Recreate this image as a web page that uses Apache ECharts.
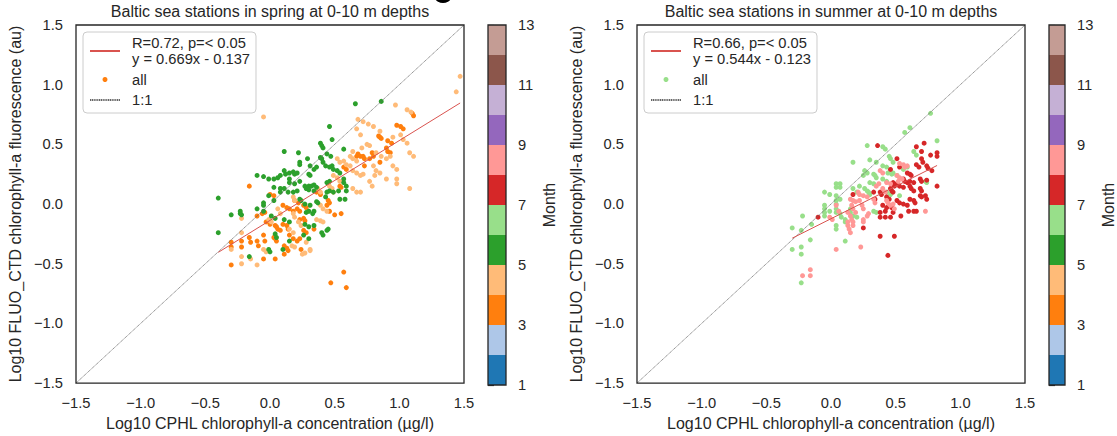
<!DOCTYPE html>
<html>
<head>
<meta charset="utf-8">
<script src="https://cdn.jsdelivr.net/npm/echarts@6/dist/echarts.min.js"></script>
<style>
html,body{margin:0;padding:0;background:#ffffff;}
#chart{width:1117px;height:436px;}
</style>
</head>
<body>
<div id="chart"></div>
<script>
// ---------- data ----------
const months = [1, 2, 3, 4, 5, 6, 7, 8, 9, 10, 11, 12];
const monthColors = ['#1f77b4', '#aec7e8', '#ff7f0e', '#ffbb78', '#2ca02c', '#98df8a',
                     '#d62728', '#ff9896', '#9467bd', '#c5b0d5', '#8c564b', '#c49c94'];
const colorbarTicks = [1, 3, 5, 7, 9, 11, 13];
const titles = ['Baltic sea stations in spring at 0-10 m depths', 'Baltic sea stations in summer at 0-10 m depths'];
const xAxisTitle = 'Log10 CPHL chlorophyll-a concentration (µg/l)';
const yAxisTitle = 'Log10 FLUO_CTD chlorophyll-a fluorescence (au)';
const colorbarTitle = 'Month';
const fitLabels = ['R=0.72, p=< 0.05\ny = 0.669x - 0.137', 'R=0.66, p=< 0.05\ny = 0.544x - 0.123'];
const fitSlopes = [0.669, 0.544];
const fitIntercepts = [-0.137, -0.123];
const oneToOne = [[-1.5, -1.5], [1.5, 1.5]];

// spring: March (3), April (4), May (5)  [log10 CPHL, log10 FLUO]
const spring3 = [[0.98,0.66],[1.01,0.65],[1.03,0.63],[1.10,0.76],[1.11,0.74],[0.84,0.57],[0.85,0.56],[0.86,0.55],[0.91,0.53],[0.94,0.51],[0.67,0.40],[0.68,0.42],[0.70,0.40],[0.72,0.40],[0.73,0.38],[0.77,0.38],[0.79,0.43],[0.80,0.40],[0.91,0.44],[0.93,0.43],[0.90,0.47],[0.85,0.35],[0.57,0.31],[0.59,0.29],[0.73,0.32],[-0.16,0.15],[0.54,0.15],[0.55,0.14],[0.36,0.10],[0.39,0.08],[0.00,0.08],[0.03,0.07],[0.19,0.03],[0.22,0.01],[0.10,-0.01],[0.13,-0.03],[0.15,-0.04],[0.18,-0.06],[0.21,-0.04],[0.23,-0.06],[0.26,-0.01],[0.28,-0.03],[0.45,0.03],[0.46,0.01],[0.44,-0.01],[0.46,-0.06],[0.50,-0.09],[0.55,-0.08],[-0.10,-0.10],[-0.06,-0.08],[-0.04,-0.07],[-0.03,-0.15],[0.00,-0.17],[0.04,-0.18],[0.05,-0.19],[0.06,-0.21],[0.08,-0.22],[0.10,-0.17],[0.13,-0.18],[0.14,-0.21],[0.23,-0.13],[0.26,-0.12],[0.27,-0.14],[0.15,-0.26],[0.18,-0.29],[0.03,-0.28],[0.04,-0.29],[0.05,-0.31],[0.11,-0.35],[0.13,-0.37],[0.14,-0.39],[0.21,-0.31],[0.23,-0.29],[0.26,-0.22],[0.28,-0.24],[-0.16,-0.28],[-0.15,-0.32],[-0.10,-0.31],[-0.09,-0.35],[-0.30,-0.32],[-0.30,-0.36],[-0.22,-0.31],[-0.22,-0.36],[-0.05,-0.26],[-0.04,-0.31],[-0.30,-0.51],[0.04,-0.46],[0.11,-0.42],[-0.05,-0.46],[0.24,-0.38],[0.47,-0.66],[0.57,-0.57],[0.59,-0.70],[0.34,-0.21]];
const spring4 = [[1.47,1.07],[1.44,0.94],[0.97,0.83],[1.06,0.79],[1.09,0.77],[0.68,0.71],[0.72,0.69],[0.76,0.67],[0.80,0.65],[0.85,0.61],[0.67,0.63],[0.70,0.58],[0.95,0.56],[1.01,0.58],[1.03,0.54],[1.06,0.51],[0.75,0.50],[0.77,0.49],[0.71,0.47],[0.64,0.44],[0.62,0.40],[0.64,0.38],[0.67,0.36],[1.08,0.43],[1.11,0.40],[0.82,0.43],[0.86,0.40],[0.90,0.38],[0.93,0.40],[0.52,0.38],[0.54,0.35],[0.57,0.36],[0.59,0.33],[0.62,0.32],[0.64,0.28],[0.67,0.26],[0.70,0.24],[0.72,0.25],[0.80,0.32],[0.82,0.28],[0.85,0.26],[0.81,0.24],[0.95,0.32],[0.98,0.29],[0.77,0.19],[0.79,0.15],[0.90,0.21],[0.98,0.21],[0.98,0.17],[1.08,0.13],[0.49,0.24],[0.52,0.22],[0.54,0.19],[0.46,0.15],[0.48,0.13],[0.49,0.10],[0.64,0.13],[0.67,0.10],[0.70,0.10],[0.37,0.13],[0.39,0.10],[0.18,0.06],[0.19,0.03],[0.39,-0.01],[0.41,-0.04],[0.44,-0.06],[0.36,-0.13],[0.39,-0.14],[0.41,-0.15],[-0.05,0.73],[-0.22,-0.12],[-0.22,-0.24],[0.06,-0.04],[0.08,-0.08],[0.18,-0.08],[0.19,-0.11],[0.22,-0.15],[0.24,-0.18],[-0.01,-0.13],[0.01,-0.15],[0.15,-0.21],[0.18,-0.24],[0.28,-0.32],[0.31,-0.38],[0.31,-0.39],[0.25,-0.42],[0.27,-0.41],[0.17,-0.35],[0.19,-0.36],[-0.22,-0.44],[-0.22,-0.50],[-0.15,-0.46],[-0.10,-0.51],[-0.30,-0.38],[-0.05,-0.38],[-0.03,-0.40]];
const spring5 = [[0.66,0.84],[0.86,0.86],[0.46,0.65],[0.48,0.54],[0.39,0.51],[0.40,0.49],[0.41,0.47],[0.57,0.46],[0.11,0.44],[0.22,0.43],[0.29,0.38],[0.23,0.35],[0.23,0.33],[0.39,0.39],[0.40,0.38],[0.44,0.42],[0.47,0.40],[0.41,0.35],[0.43,0.32],[0.46,0.31],[0.48,0.32],[0.49,0.29],[0.52,0.28],[0.54,0.26],[0.31,0.32],[0.34,0.29],[0.36,0.31],[0.30,0.25],[0.31,0.24],[0.11,0.28],[0.12,0.25],[0.15,0.26],[0.18,0.27],[0.19,0.25],[0.21,0.26],[0.08,0.24],[0.15,0.21],[-0.10,0.24],[-0.05,0.23],[-0.01,0.21],[0.03,0.21],[0.06,0.22],[0.15,0.18],[0.19,0.17],[0.23,0.19],[0.27,0.15],[0.30,0.15],[0.32,0.15],[0.34,0.16],[0.36,0.14],[0.28,0.13],[0.30,0.12],[0.34,0.11],[0.44,0.18],[0.46,0.19],[0.57,0.21],[0.57,0.18],[0.59,0.15],[0.03,0.14],[0.08,0.13],[0.11,0.13],[0.14,0.10],[0.18,0.10],[0.21,0.11],[0.08,0.10],[-0.01,0.07],[0.03,0.03],[-0.05,0.01],[-0.05,-0.01],[0.23,0.04],[0.24,0.03],[0.27,0.00],[0.31,-0.01],[0.36,0.02],[0.37,0.01],[0.43,0.06],[0.44,0.10],[0.46,0.11],[0.49,0.10],[0.54,0.04],[0.58,0.04],[0.59,0.11],[0.53,0.11],[-0.40,0.05],[-0.30,-0.09],[-0.23,-0.06],[-0.23,-0.08],[-0.22,-0.09],[-0.10,-0.04],[-0.05,-0.06],[0.01,-0.10],[0.04,-0.12],[0.11,-0.13],[0.15,-0.15],[0.28,-0.07],[0.30,-0.06],[0.33,-0.08],[0.34,-0.06],[0.27,-0.17],[0.30,-0.19],[0.34,-0.18],[0.40,-0.24],[0.41,-0.26],[0.44,-0.22],[0.45,-0.21],[-0.40,-0.24],[-0.16,-0.44],[-0.01,-0.38],[0.00,-0.40],[0.04,-0.25],[0.05,-0.28],[0.10,-0.38],[0.15,-0.31],[0.26,-0.26],[0.30,-0.29]];

// summer: June (6), July (7), August (8)
const summer6 = [[0.77,0.76],[0.61,0.64],[0.57,0.60],[0.82,0.53],[0.28,0.49],[0.40,0.48],[0.42,0.46],[0.64,0.44],[0.66,0.41],[0.30,0.37],[0.35,0.35],[0.45,0.40],[0.46,0.38],[0.48,0.35],[0.17,0.35],[0.26,0.28],[0.28,0.26],[0.25,0.24],[0.40,0.32],[0.43,0.31],[0.33,0.25],[0.34,0.24],[0.35,0.22],[0.44,0.26],[0.47,0.25],[0.48,0.26],[0.51,0.24],[0.56,0.29],[0.59,0.31],[0.40,0.21],[0.43,0.19],[0.30,0.18],[0.33,0.17],[0.22,0.15],[0.26,0.13],[0.28,0.11],[0.29,0.10],[0.30,0.08],[0.17,0.13],[0.20,0.10],[-0.05,0.10],[-0.01,0.08],[0.04,0.17],[0.04,0.14],[0.07,0.17],[0.07,0.14],[0.04,0.07],[0.04,0.03],[0.04,0.00],[0.07,0.04],[-0.05,-0.01],[-0.05,-0.04],[-0.05,-0.07],[-0.05,-0.10],[-0.01,-0.06],[0.04,-0.04],[0.04,-0.07],[0.07,-0.08],[0.08,-0.11],[0.15,-0.04],[0.15,-0.07],[0.11,-0.13],[0.11,-0.15],[0.17,-0.10],[0.20,-0.11],[0.33,-0.06],[0.35,-0.07],[0.43,0.10],[0.46,0.08],[0.74,0.18],[0.73,0.19],[-0.22,-0.10],[-0.15,-0.17],[-0.23,-0.22],[-0.30,-0.20],[-0.16,-0.30],[-0.23,-0.36],[-0.23,-0.42],[-0.30,-0.38],[0.04,-0.18],[0.04,-0.21],[0.11,-0.31],[-0.23,-0.66],[0.53,0.07]];
const summer7 = [[0.36,0.49],[0.66,0.48],[0.72,0.51],[0.70,0.44],[0.77,0.41],[0.82,0.43],[0.82,0.40],[0.70,0.38],[0.71,0.35],[0.51,0.38],[0.53,0.31],[0.66,0.33],[0.68,0.31],[0.46,0.29],[0.59,0.26],[0.61,0.25],[0.62,0.24],[0.74,0.32],[0.75,0.30],[0.78,0.28],[0.56,0.21],[0.57,0.19],[0.59,0.18],[0.61,0.19],[0.64,0.18],[0.48,0.18],[0.51,0.17],[0.49,0.15],[0.69,0.21],[0.70,0.19],[0.74,0.20],[0.38,0.10],[0.39,0.08],[0.46,0.13],[0.47,0.11],[0.48,0.10],[0.53,0.15],[0.56,0.14],[0.61,0.15],[0.62,0.13],[0.64,0.11],[0.69,0.13],[0.70,0.11],[0.82,0.15],[0.17,0.08],[0.33,0.10],[0.34,0.04],[0.43,0.06],[0.45,0.04],[0.51,0.03],[0.53,0.01],[0.56,0.00],[0.61,0.04],[0.64,0.03],[0.65,0.01],[0.69,0.07],[0.70,0.06],[0.73,0.07],[0.74,0.04],[0.40,-0.01],[0.43,-0.03],[0.42,-0.06],[0.47,-0.03],[0.48,-0.07],[0.59,-0.01],[0.60,-0.06],[0.64,-0.06],[0.66,-0.06],[0.54,-0.10],[0.38,-0.07],[0.38,-0.11],[0.42,-0.11],[0.46,-0.11],[-0.10,-0.11],[0.25,-0.20],[0.38,-0.27],[0.49,-0.27],[0.44,-0.43]];
const summer8 = [[0.53,0.34],[0.56,0.33],[0.57,0.31],[0.59,0.32],[0.38,0.28],[0.40,0.26],[0.51,0.24],[0.53,0.22],[0.55,0.21],[0.52,0.19],[0.43,0.18],[0.46,0.17],[0.35,0.15],[0.37,0.17],[0.21,0.10],[0.22,0.08],[0.25,0.07],[0.28,0.06],[0.15,0.04],[0.17,0.03],[0.19,0.02],[0.22,0.03],[0.24,-0.01],[0.25,-0.04],[0.16,-0.01],[0.17,-0.04],[0.19,-0.07],[0.13,-0.07],[0.15,-0.10],[0.16,-0.13],[0.13,-0.15],[0.13,-0.18],[0.14,-0.21],[0.15,-0.24],[0.17,-0.15],[0.17,-0.18],[0.25,-0.13],[0.25,-0.15],[0.33,0.04],[0.34,0.01],[0.40,0.13],[0.42,0.10],[0.43,0.03],[0.44,0.01],[0.46,-0.01],[0.48,0.00],[0.49,-0.04],[0.04,-0.01],[0.06,-0.06],[-0.01,-0.11],[0.01,-0.13],[0.04,-0.38],[0.23,-0.36],[-0.22,-0.60],[-0.16,-0.60],[-0.16,-0.55],[0.73,-0.06],[0.28,-0.10],[0.29,-0.08]];

// ---------- build ----------
const FONT = "'Liberation Sans', Arial, sans-serif";
const INK = '#262626';
const withMonth = (arr, m) => arr.map(p => [p[0], p[1], m]);
const springAll = [].concat(withMonth(spring3, 3), withMonth(spring4, 4), withMonth(spring5, 5));
const summerAll = [].concat(withMonth(summer6, 6), withMonth(summer7, 7), withMonth(summer8, 8));
const panels = [springAll, summerAll];
const fitLine = (pts, k) => {
  const xs = pts.map(p => p[0]);
  const x0 = Math.min.apply(null, xs), x1 = Math.max.apply(null, xs);
  return [[x0, fitSlopes[k] * x0 + fitIntercepts[k]], [x1, fitSlopes[k] * x1 + fitIntercepts[k]]];
};
const fmt = v => (v < 0 ? '\u2212' : '') + Math.abs(v).toFixed(1);

const plotLeft = [76, 637];
const barLeft = [488, 1049];
const TOP = 25, H = 360, W = 388, BW = 18;

const grids = [], xAxes = [], yAxes = [], series = [], legends = [], graphics = [];
const legendFirstColor = ['#ff7f0e', '#98df8a'];
const hiddenSymbol = {color: 'rgba(0,0,0,0)', borderWidth: 0, opacity: 0};

for (let k = 0; k < 2; k++) {
  const gMain = grids.length;
  grids.push({left: plotLeft[k], top: TOP, width: W, height: H, show: true, z: 10,
              borderColor: INK, borderWidth: 1.3, backgroundColor: 'transparent'});
  const gBar = grids.length;
  grids.push({left: barLeft[k], top: TOP, width: BW, height: H, show: true, z: 10,
              borderColor: INK, borderWidth: 1.3, backgroundColor: 'transparent'});

  xAxes.push({gridIndex: gMain, type: 'value', min: -1.5, max: 1.5, interval: 0.5,
    name: xAxisTitle, nameLocation: 'middle', nameGap: 31,
    nameTextStyle: {fontSize: 16, color: INK, fontFamily: FONT},
    axisLine: {show: false}, axisTick: {show: false}, splitLine: {show: false},
    axisLabel: {margin: 12, fontSize: 14.7, color: INK, fontFamily: FONT, formatter: fmt}});
  xAxes.push({gridIndex: gBar, type: 'value', min: 0, max: 1, show: false});

  yAxes.push({gridIndex: gMain, type: 'value', min: -1.5, max: 1.5, interval: 0.5,
    name: yAxisTitle, nameLocation: 'middle', nameGap: 53, nameRotate: 90,
    nameTextStyle: {fontSize: 16, color: INK, fontFamily: FONT},
    axisLine: {show: false}, axisTick: {show: false}, splitLine: {show: false},
    axisLabel: {margin: 13, fontSize: 14.7, color: INK, fontFamily: FONT, formatter: fmt}});
  yAxes.push({gridIndex: gBar, type: 'value', min: 1, max: 13, position: 'right',
    name: colorbarTitle, nameLocation: 'middle', nameGap: 35, nameRotate: 90,
    nameTextStyle: {fontSize: 16, color: INK, fontFamily: FONT},
    axisLine: {show: false}, splitLine: {show: false},
    axisTick: {show: true, length: 6, inside: false, customValues: colorbarTicks, lineStyle: {color: INK, width: 1.2}},
    axisLabel: {margin: 12, fontSize: 14.7, color: INK, fontFamily: FONT, customValues: colorbarTicks}});

  series.push({type: 'scatter', name: 'all', xAxisIndex: gMain, yAxisIndex: gMain,
    data: panels[k], symbolSize: 5, itemStyle: {opacity: 1}, z: 2});
  series.push({type: 'line', name: fitLabels[k], xAxisIndex: gMain, yAxisIndex: gMain,
    data: fitLine(panels[k], k), symbol: 'none', lineStyle: {color: '#d9534f', width: 1}, z: 4});
  series.push({type: 'line', name: '1:1', xAxisIndex: gMain, yAxisIndex: gMain,
    data: oneToOne, symbol: 'none', lineStyle: {color: '#666666', width: 0.8, type: [1.2, 0.6]}, z: 3});
  series.push({type: 'custom', name: 'colorbar' + k, xAxisIndex: gBar, yAxisIndex: gBar,
    data: months.map(m => [0, m]),
    renderItem: function (params, api) {
      const m = api.value(1);
      const p0 = api.coord([0, m]);
      const p1 = api.coord([1, m + 1]);
      return {type: 'rect', shape: {x: p0[0], y: p1[1], width: p1[0] - p0[0], height: p0[1] - p1[1]},
              style: {fill: monthColors[m - 1]}};
    }});

  legends.push({orient: 'vertical', left: plotLeft[k] + 7, top: 32,
    data: [{name: fitLabels[k], itemStyle: hiddenSymbol},
           {name: 'all', icon: 'circle', itemStyle: {color: legendFirstColor[k]}},
           {name: '1:1', itemStyle: hiddenSymbol}],
    itemWidth: 30, itemHeight: 5, itemGap: 4.5,
    padding: [3, 6, 5, 6],
    backgroundColor: 'rgba(255,255,255,0.8)', borderColor: '#cccccc', borderWidth: 1, borderRadius: 4,
    textStyle: {fontSize: 14.7, color: INK, fontFamily: FONT, lineHeight: 16, padding: [0, 0, 0, 7]},
    selectedMode: false});

  graphics.push({type: 'text', x: plotLeft[k] + W / 2, y: 11,
    style: {text: titles[k], align: 'center', verticalAlign: 'middle', fontSize: 16, fill: INK, fontFamily: FONT}});
}
graphics.push({type: 'circle', shape: {cx: 443, cy: -7, r: 10}, style: {fill: '#000000'}});

const chart = echarts.init(document.getElementById('chart'), null, {renderer: 'svg'});
chart.setOption({
  animation: false,
  backgroundColor: '#ffffff',
  textStyle: {fontFamily: FONT},
  grid: grids,
  xAxis: xAxes,
  yAxis: yAxes,
  visualMap: [{type: 'piecewise', show: false, dimension: 2, seriesIndex: [0, 4],
    pieces: months.map((m, i) => ({value: m, color: monthColors[i]}))}],
  legend: legends,
  graphic: graphics,
  series: series
});
</script>
</body>
</html>
